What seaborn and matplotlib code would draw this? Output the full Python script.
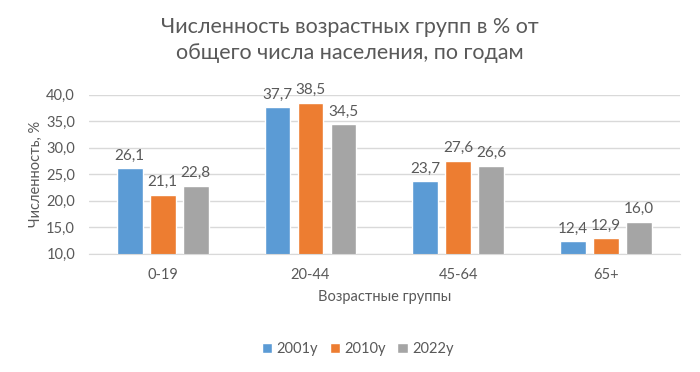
import matplotlib
matplotlib.use("Agg")
import matplotlib.pyplot as plt
import pandas as pd
import seaborn as sns

groups = ["0-19", "20-44", "45-64", "65+"]
years = ["2001у", "2010у", "2022у"]
v2001 = [26.1, 37.7, 23.7, 12.4]
v2010 = [21.1, 38.5, 27.6, 12.9]
v2022 = [22.8, 34.5, 26.6, 16.0]
colors = ["#5B9BD5", "#ED7D31", "#A5A5A5"]

df = pd.DataFrame({
    "group": groups * 3,
    "year": [years[0]] * 4 + [years[1]] * 4 + [years[2]] * 4,
    "value": v2001 + v2010 + v2022,
})

sns.set_style("white")
plt.rcParams["font.family"] = ["Lato", "DejaVu Sans"]
txt = "#595959"

fig = plt.figure(figsize=(7, 3.72), dpi=100)
ax = fig.add_axes([0.127, 0.318, 0.844, 0.427])

sns.barplot(data=df, x="group", y="value", hue="year", palette=colors,
            saturation=1, width=0.67, gap=0.22, ax=ax, legend=True)

ax.set_ylim(10, 40)
ax.set_xlim(-0.5, 3.5)
ax.set_yticks([10, 15, 20, 25, 30, 35, 40])
ax.set_yticklabels([f"{t:.1f}".replace(".", ",") for t in ax.get_yticks()])
ax.yaxis.grid(True, color="#D9D9D9", linewidth=1)
ax.set_axisbelow(True)
for s in ["top", "right", "left"]:
    ax.spines[s].set_visible(False)
ax.spines["bottom"].set_color("#D9D9D9")
ax.tick_params(axis="both", length=0, labelsize=10.5, colors=txt, pad=10)

for cont in ax.containers:
    ax.bar_label(cont, labels=[f"{v:.1f}".replace(".", ",") for v in cont.datavalues],
                 padding=4, fontsize=11, color=txt)

ax.set_xlabel("Возрастные группы", fontsize=10.5, color=txt, labelpad=6)
ax.set_ylabel("Численность, %", fontsize=10.5, color=txt, labelpad=2)

fig.suptitle("Численность возрастных групп в % от\nобщего числа населения, по годам",
             fontsize=15.5, color=txt, y=0.955, x=0.5, linespacing=1.4)

leg = ax.legend(loc="center", bbox_to_anchor=(0.5 - 0.045, -0.6), ncol=3, frameon=False,
                fontsize=10.5, handlelength=0.7, handleheight=0.7, handletextpad=0.3,
                columnspacing=0.8)
for t in leg.get_texts():
    t.set_color(txt)

fig.savefig("out.png", dpi=100)
